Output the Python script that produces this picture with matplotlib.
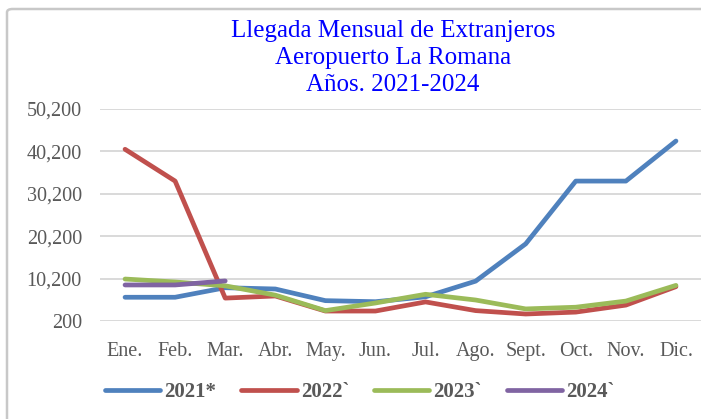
import numpy as np
import matplotlib
matplotlib.use("Agg")
from matplotlib import pyplot as plt
from matplotlib.patches import FancyBboxPatch

# Data
months = ["Ene.", "Feb.", "Mar.", "Abr.", "May.", "Jun.", "Jul.", "Ago.",
          "Sept.", "Oct.", "Nov.", "Dic."]
y2021 = [5800, 5800, 8050, 7750, 5000, 4750, 5900, 9600, 18400, 33200, 33200, 42650]
y2022 = [40700, 33200, 5600, 6100, 2550, 2550, 4700, 2650, 1850, 2300, 3950, 8300]
y2023 = [10100, 9400, 8500, 6300, 2650, 4450, 6500, 5150, 3050, 3450, 4900, 8600]
y2024 = [8700, 8700, 9650]
labels = ["2021*", "2022`", "2023`", "2024`"]
colors = ["#4f81bd", "#c0504d", "#9bbb59", "#8064a2"]
yticks = [200, 10200, 20200, 30200, 40200, 50200]
title_lines = ["Llegada Mensual de Extranjeros", "Aeropuerto La Romana", "Años. 2021-2024"]

plt.rcParams['font.family'] = ['Liberation Serif', 'DejaVu Serif']

W, H = 701, 419
fig = plt.figure(figsize=(W / 100, H / 100), dpi=100)

# chart border
fig.patches.append(FancyBboxPatch((7 / W, -0.05), 1.0, 1 - 9 / H + 0.05,
                                  boxstyle="round,pad=0,rounding_size=0.008",
                                  transform=fig.transFigure, fill=False,
                                  edgecolor="#c8c8c8", linewidth=1.8))

ax = fig.add_axes([100 / W, 1 - 321 / H, 601 / W, 212 / H])
x = np.arange(len(months))
for ys, lab, col in zip([y2021, y2022, y2023, y2024], labels, colors):
    ax.plot(x[:len(ys)], ys, color=col, linewidth=3.4, label=lab,
            solid_capstyle="round", solid_joinstyle="round")

ax.set_xlim(-0.5, 11.5)
ax.set_ylim(200, 50200)
ax.set_yticks(yticks)
ax.set_yticklabels(["{:,}".format(v) for v in yticks])
ax.set_xticks(x)
ax.set_xticklabels(months)
ax.tick_params(length=0, labelsize=14.5, labelcolor="#595959")
ax.tick_params(axis="y", pad=13)
ax.tick_params(axis="x", pad=15)
ax.grid(axis="y", color="#d9d9d9", linewidth=1.4)
ax.set_axisbelow(True)
for s in ax.spines.values():
    s.set_visible(False)

for line, ypix in zip(title_lines, [31, 58, 85]):
    fig.text(393 / W, 1 - ypix / H, line, ha="center", va="center",
             color="#0000ff", fontsize=18)

fig.legend(loc="center", bbox_to_anchor=(360 / W, 1 - 392 / H), ncol=4, frameon=False,
           prop={"weight": "bold", "size": 15}, labelcolor="#595959",
           handlelength=2.65, handletextpad=0.2, columnspacing=1.2)

fig.savefig("out.png", dpi=100)
